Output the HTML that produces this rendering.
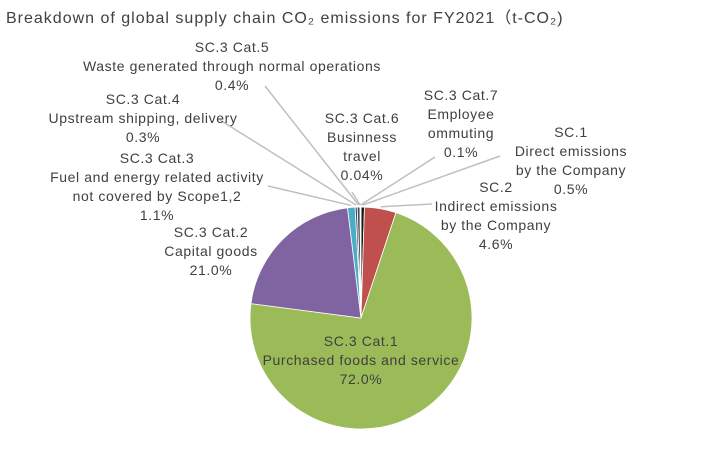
<!DOCTYPE html>
<html><head><meta charset="utf-8"><style>
body{margin:0;background:#fff;font-family:"Liberation Sans","Noto Sans CJK JP",sans-serif;}
svg text{font-family:"Liberation Sans","Noto Sans CJK JP",sans-serif;fill:#404040;font-size:14px;letter-spacing:0.6px;}
</style></head><body>
<svg width="720" height="468">
<text x="6" y="23" style="font-size:16px;letter-spacing:1px">Breakdown of global supply chain CO₂ emissions for FY2021（t-CO₂)</text>
<g id="lines"></g><g id="slices"></g><g id="labels"></g>
</svg>
<script>
const categories=["SC.1","SC.2","SC.3 Cat.1","SC.3 Cat.2","SC.3 Cat.3","SC.3 Cat.4","SC.3 Cat.5","SC.3 Cat.6","SC.3 Cat.7"];
const values=[0.5,4.6,72.0,21.0,1.1,0.3,0.4,0.04,0.1];
const valueLabels=["0.5%","4.6%","72.0%","21.0%","1.1%","0.3%","0.4%","0.04%","0.1%"];
const colors=["#1a1a1a","#c0504d","#9bbb59","#8064a2","#4bacc6","#2c4d75","#4a4a4a","#222","#7f7f7f"];
const labelLines=[["SC.1","Direct emissions","by the Company"],["SC.2","Indirect emissions","by the Company"],["SC.3 Cat.1","Purchased foods and service"],["SC.3 Cat.2","Capital goods"],["SC.3 Cat.3","Fuel and energy related activity","not covered by Scope1,2"],["SC.3 Cat.4","Upstream shipping, delivery"],["SC.3 Cat.5","Waste generated through normal operations"],["SC.3 Cat.6","Businness","travel"],["SC.3 Cat.7","Employee","ommuting"]];
const labelPos=[[571,137],[496,192],[361,346],[211,237],[157,163],[143,104],[232,52],[362,123],[461,100]];
const anchors=[[500,156],[432,204],null,null,[268,186],[220,120],[265,86],[352,192],[435,157]];
const cx=361,cy=318,r=111,NS="http://www.w3.org/2000/svg";
const total=values.reduce((a,b)=>a+b,0);
function pt(a,rr){return [cx+rr*Math.sin(a),cy-rr*Math.cos(a)];}
let a0=0;
const gS=document.getElementById('slices'),gL=document.getElementById('lines'),gT=document.getElementById('labels');
values.forEach((v,i)=>{
  const a1=a0+v/total*2*Math.PI;
  const p0=pt(a0,r),p1=pt(a1,r);
  const p=document.createElementNS(NS,'path');
  p.setAttribute('d',`M${cx},${cy}L${p0[0]},${p0[1]}A${r},${r} 0 ${a1-a0>Math.PI?1:0} 1 ${p1[0]},${p1[1]}Z`);
  p.setAttribute('fill',colors[i]);p.setAttribute('stroke','#fff');p.setAttribute('stroke-width','0.8');
  
  
  gS.appendChild(p);
  const am=(a0+a1)/2;
  if(anchors[i]){
    const e=pt(am,r+2);
    const l=document.createElementNS(NS,'line');
    l.setAttribute('x1',anchors[i][0]);l.setAttribute('y1',anchors[i][1]);l.setAttribute('x2',e[0]);l.setAttribute('y2',e[1]);
    l.setAttribute('stroke','#bfbfbf');l.setAttribute('stroke-width','1.5');
    
    
    gL.appendChild(l);
  }
  const lines=labelLines[i].concat([valueLabels[i]]);
  const t=document.createElementNS(NS,'text');
  t.setAttribute('text-anchor','middle');
  
  
  lines.forEach((s,k)=>{const ts=document.createElementNS(NS,'tspan');ts.setAttribute('x',labelPos[i][0]);ts.setAttribute('y',labelPos[i][1]+k*19);ts.textContent=s;t.appendChild(ts);});
  gT.appendChild(t);
  a0=a1;
});
</script>
</body></html>
